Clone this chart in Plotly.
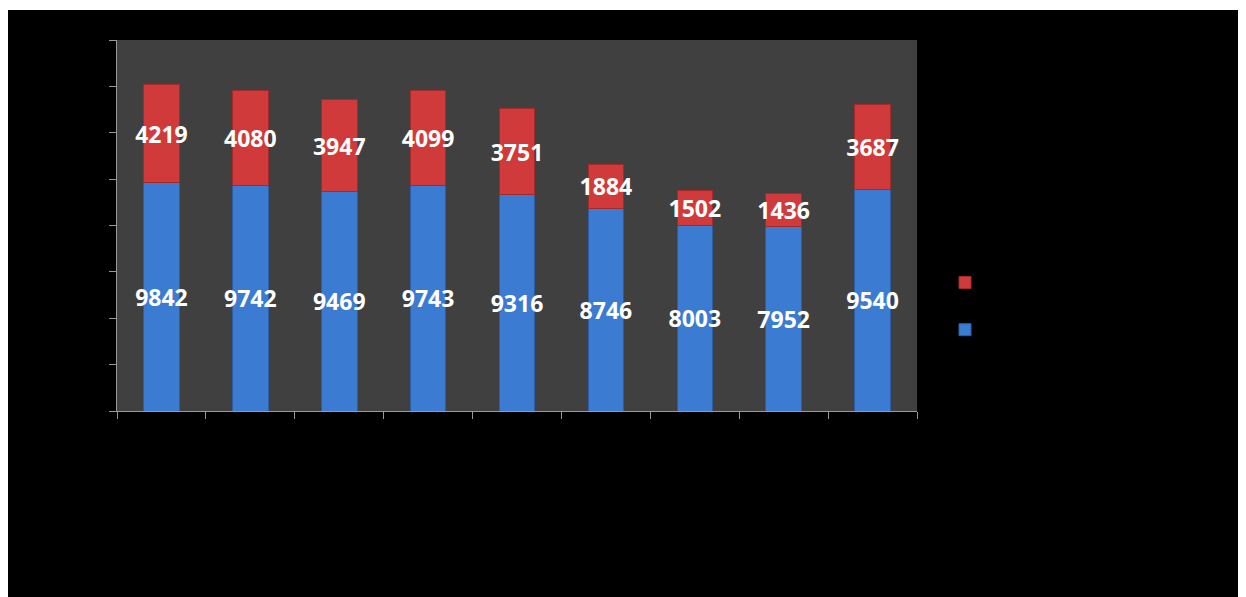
import plotly.graph_objects as go

categories = ["Category 1", "Category 2", "Category 3", "Category 4", "Category 5",
              "Category 6", "Category 7", "Category 8", "Category 9"]
series_blue = [9842, 9742, 9469, 9743, 9316, 8746, 8003, 7952, 9540]
series_red = [4219, 4080, 3947, 4099, 3751, 1884, 1502, 1436, 3687]
name_blue = "Series 1"
name_red = "Series 2"

label_font = dict(family="Open Sans", size=23, color="white")

fig = go.Figure()
fig.add_trace(go.Bar(
    x=categories, y=series_blue, name=name_blue,
    marker=dict(color="#3b7bd2", line=dict(color="#2c5ea6", width=1)),
    text=[str(v) for v in series_blue], textposition="inside",
    insidetextanchor="middle", textangle=0, constraintext="none",
    textfont=label_font,
    texttemplate="<b>%{text}</b>",
))
fig.add_trace(go.Bar(
    x=categories, y=series_red, name=name_red,
    marker=dict(color="#d03a3a", line=dict(color="#a42a2a", width=1)),
    text=[str(v) for v in series_red], textposition="inside",
    insidetextanchor="middle", textangle=0, constraintext="none",
    textfont=label_font,
    texttemplate="<b>%{text}</b>",
))

W, H = 1238, 589
L, R, T, B = 109, 329, 32, 186
plot_h = H - T - B

fig.update_layout(
    width=W, height=H,
    margin=dict(l=L, r=R, t=T, b=B, pad=0),
    barmode="stack", bargap=0.6,
    paper_bgcolor="black", plot_bgcolor="#404040",
    font=dict(family="Open Sans", color="black"),
    showlegend=True,
    legend=dict(x=1.035, y=0.282, xanchor="left", yanchor="middle",
                font=dict(size=34, color="black"), bgcolor="rgba(0,0,0,0)"),
    xaxis=dict(showline=True, linecolor="#9a9a9a", linewidth=1,
               ticks="outside", tickson="boundaries", ticklen=7,
               tickcolor="#9a9a9a", tickfont=dict(color="black"),
               showgrid=False, zeroline=False),
    yaxis=dict(range=[0, 16000], dtick=2000, showline=True, linecolor="#9a9a9a",
               linewidth=1, ticks="outside", ticklen=7, tickcolor="#9a9a9a",
               tickfont=dict(color="black"), showgrid=False, zeroline=False),
    shapes=[dict(type="rect", xref="paper", yref="paper",
                 x0=-0.2, x1=1.6, y0=1 + (T - 2) / plot_h,
                 y1=1.3, fillcolor="white", line=dict(width=0), layer="above")],
)

fig.write_html("out.html")
